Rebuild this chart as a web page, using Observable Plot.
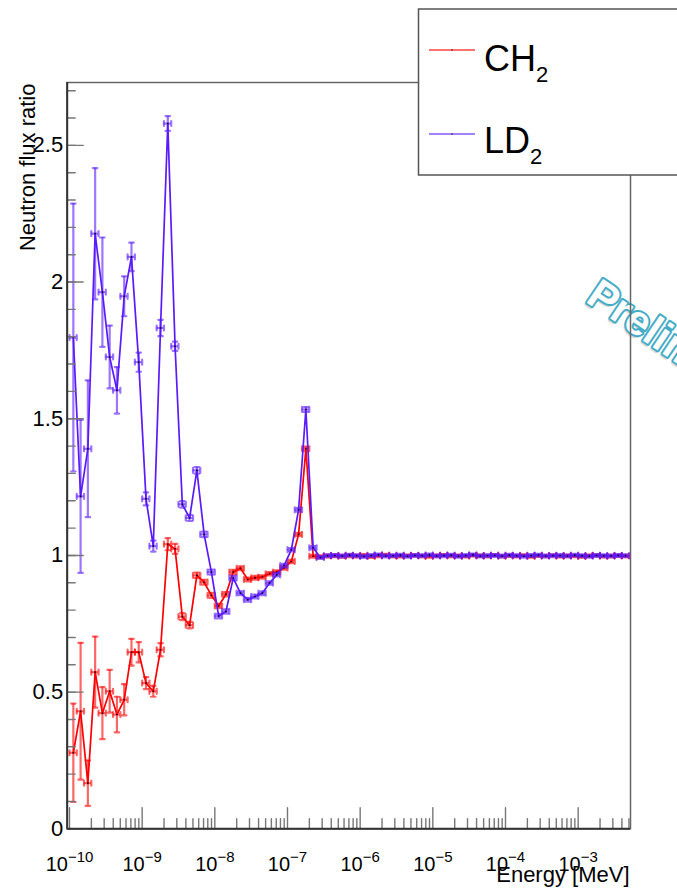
<!DOCTYPE html>
<html><head><meta charset="utf-8">
<script src="https://cdn.jsdelivr.net/npm/d3@7"></script>
<script src="https://cdn.jsdelivr.net/npm/@observablehq/plot@0.6"></script>
<style>html,body{margin:0;padding:0;background:#fff;} svg{display:block}</style>
</head><body><div id="chart"></div>
<script>
// ---- binning: 10 log bins per decade starting at 1e-10 MeV ----
const nBins = 77;
const binLowExp = d3.range(nBins).map(i => -10 + i / 10);

// ---- series values (ratio) ----
const ch2Values = [0.278,0.430,0.167,0.573,0.423,0.503,0.418,0.472,0.646,0.646,
  0.533,0.503,0.655,1.041,1.024,0.776,0.745,0.927,0.902,0.854,
  0.815,0.858,0.939,0.953,0.912,0.918,0.921,0.933,0.939,0.954,
  0.978,1.077,1.390,0.997,0.995,0.998,0.999,0.997,0.999,0.998,
  1.000,0.996,0.999,1.001,0.998,0.997,0.999,1.000,0.998,0.996,
  0.999,1.001,0.998,0.999,0.997,1.000,0.999,0.998,1.001,0.997,
  0.999,0.998,1.000,0.996,0.999,0.998,1.000,0.997,0.999,0.998,
  0.996,0.999,1.000,0.997,0.998,0.999,0.998];
const ch2Errors = [0.18,0.25,0.083,0.13,0.095,0.078,0.065,0.057,0.049,0.037,
  0.022,0.02,0.024,0.022,0.018,0.013,0.012,0.010,0.009,0.009,
  0.008,0.008,0.008,0.007,0.007,0.007,0.006,0.006,0.006,0.006,
  0.006,0.006,0.008,0.005,0.005,0.005,0.005,0.005,0.005,0.005,
  0.005,0.005,0.005,0.005,0.004,0.004,0.004,0.004,0.004,0.004,
  0.004,0.004,0.004,0.004,0.004,0.004,0.004,0.004,0.004,0.004,
  0.004,0.004,0.004,0.004,0.004,0.004,0.004,0.004,0.004,0.004,
  0.004,0.004,0.004,0.004,0.004,0.004,0.004];
const ld2Values = [1.797,1.216,1.390,2.177,1.963,1.726,1.604,1.948,2.092,1.707,
  1.207,1.034,1.832,2.580,1.765,1.187,1.137,1.311,1.077,0.939,
  0.778,0.795,0.917,0.862,0.838,0.850,0.862,0.899,0.929,0.963,
  1.021,1.167,1.534,1.028,0.992,0.999,1.000,0.998,1.001,0.999,
  0.996,1.000,1.002,0.998,0.999,1.001,0.997,1.000,0.999,1.002,
  0.998,0.999,1.001,0.997,1.000,1.002,0.998,0.999,1.000,0.998,
  1.001,0.999,0.997,1.000,1.001,0.998,0.999,1.000,0.998,1.001,
  0.999,0.997,1.000,0.999,0.998,1.000,0.999];
const ld2Errors = [0.49,0.28,0.25,0.24,0.20,0.115,0.085,0.073,0.052,0.035,
  0.024,0.02,0.03,0.027,0.017,0.012,0.011,0.012,0.010,0.009,
  0.008,0.008,0.008,0.007,0.007,0.007,0.007,0.006,0.006,0.006,
  0.006,0.007,0.009,0.006,0.005,0.005,0.005,0.005,0.005,0.005,
  0.005,0.005,0.005,0.005,0.005,0.005,0.005,0.005,0.005,0.005,
  0.005,0.005,0.005,0.005,0.005,0.005,0.005,0.005,0.005,0.005,
  0.005,0.005,0.005,0.005,0.005,0.005,0.005,0.005,0.005,0.005,
  0.005,0.005,0.005,0.005,0.005,0.005,0.005];

// ---- ticks ----
const xMajorTicks = [1e-10,1e-9,1e-8,1e-7,1e-6,1e-5,1e-4,1e-3];
const xMinorTicks = [];
for (const m of xMajorTicks) for (const k of [2,3,4,5,6,7,8,9]) { const v = k*m; if (v <= 5.25e-3) xMinorTicks.push(v); }
const yMajorTicks = [0,0.5,1,1.5,2,2.5];
const yMinorTicks = d3.range(0, 28).map(i => i/10);

const seriesNames = ["CH", "LD"];
const seriesSub = ["2", "2"];
const colors = ["#ff0000", "#5a1aff"];
const watermark = [{x: 1.22e-3, y: 1.93, t: "Preliminary"}];

const FONT = "'Liberation Sans', Arial, Helvetica, sans-serif";

function rows(vals, errs) {
  return vals.map((v, i) => {
    const lo = Math.pow(10, binLowExp[i]), hi = Math.pow(10, binLowExp[i] + 0.1);
    return {x: (lo + hi) / 2, lo, hi, y: v, e: errs[i]};
  });
}
const ch2 = rows(ch2Values, ch2Errors);
const ld2 = rows(ld2Values, ld2Errors);

const up = {draw(c, l) { c.moveTo(0, 0); c.lineTo(0, -l); }};
const right = {draw(c, l) { c.moveTo(0, 0); c.lineTo(l, 0); }};
const hcap = {draw(c, l) { c.moveTo(-l/2, 0); c.lineTo(l/2, 0); }};
const vcap = {draw(c, l) { c.moveTo(0, -l/2); c.lineTo(0, l/2); }};

function seriesMarks(data, color) {
  const eb = {stroke: color, strokeOpacity: 0.6, strokeWidth: 2.2};
  return [
    Plot.ruleX(data, {x: "x", y1: d => d.y - d.e, y2: d => d.y + d.e, ...eb}),
    Plot.ruleY(data, {y: "y", x1: "lo", x2: "hi", ...eb}),
    Plot.vector(data, {x: "x", y: d => d.y + d.e, length: 4.5, anchor: "start", shape: hcap, ...eb}),
    Plot.vector(data, {x: "x", y: d => d.y - d.e, length: 4.5, anchor: "start", shape: hcap, ...eb}),
    Plot.vector(data, {x: "lo", y: "y", length: 5, anchor: "start", shape: vcap, ...eb}),
    Plot.vector(data, {x: "hi", y: "y", length: 5, anchor: "start", shape: vcap, ...eb}),
    Plot.line(data, {x: "x", y: "y", stroke: color, strokeWidth: 1.7}),
    Plot.dot(data, {x: "x", y: "y", r: 0.8, fill: "black"})
  ];
}

const tickStroke = {stroke: "#777", strokeWidth: 1.4};

const chart = Plot.plot({
  width: 677, height: 893,
  marginLeft: 66.7, marginRight: 47, marginTop: 82, marginBottom: 64.7,
  x: {type: "log", domain: [9.3e-11, 5.25e-3], axis: null},
  y: {domain: [0, 2.73], axis: null},
  style: {fontFamily: FONT, background: "white", color: "black"},
  marks: [
    Plot.text(watermark, {x: "x", y: "y", text: "t", rotate: 34, textAnchor: "start", lineAnchor: "bottom",
      fontSize: 42, fontWeight: "bold", fill: "none", stroke: "#999", strokeWidth: 2, strokeOpacity: 0.35, dx: -1.5, dy: 2}),
    Plot.text(watermark, {x: "x", y: "y", text: "t", rotate: 34, textAnchor: "start", lineAnchor: "bottom",
      fontSize: 42, fontWeight: "bold", fill: "white", stroke: "#45abc6", strokeWidth: 4}),
    Plot.frame({stroke: "#666", strokeWidth: 1.5}),
    ...seriesMarks(ch2, colors[0]),
    ...seriesMarks(ld2, colors[1]),
    Plot.vector(xMajorTicks, {x: d => d, frameAnchor: "bottom", length: 21, anchor: "start", shape: up, ...tickStroke}),
    Plot.vector(xMinorTicks, {x: d => d, frameAnchor: "bottom", length: 10, anchor: "start", shape: up, ...tickStroke}),
    Plot.vector(yMajorTicks, {y: d => d, frameAnchor: "left", length: 16, anchor: "start", shape: right, ...tickStroke}),
    Plot.vector(yMinorTicks, {y: d => d, frameAnchor: "left", length: 8, anchor: "start", shape: right, ...tickStroke}),
    Plot.ruleY([0], {stroke: "#333", strokeWidth: 2}),
    Plot.ruleX([9.3e-11], {stroke: "#333", strokeWidth: 2}),
    Plot.text(xMajorTicks, {x: d => d, frameAnchor: "bottom", dy: 42.4, lineAnchor: "bottom", textAnchor: "middle",
      text: d => String(Math.round(Math.log10(d))), fontSize: 20, fill: "black"}),
    Plot.text(yMajorTicks, {y: d => d, frameAnchor: "left", dx: -4, textAnchor: "end", lineAnchor: "middle",
      text: d => String(d), fontSize: 22, fill: "black"}),
    Plot.text(["Neutron flux ratio"], {frameAnchor: "top-left", dx: -31.7, dy: 1, rotate: -90, textAnchor: "end",
      lineAnchor: "bottom", text: d => d, fontSize: 22, fill: "black"}),
    Plot.text(["Energy [MeV]"], {frameAnchor: "bottom-right", dx: -1, dy: 52.7, textAnchor: "end",
      lineAnchor: "bottom", text: d => d, fontSize: 22, fill: "black"})
  ]
});

// superscript exponents for x tick labels
d3.select(chart).selectAll("text").each(function() {
  const s = this.textContent;
  if (/^-\d+$/.test(s)) {
    this.textContent = "10";
    d3.select(this).append("tspan").attr("font-size", 15).attr("dy", -9.5).text("\u2212" + s.slice(1));
  }
});

// legend (top right, partially outside the picture)
const svg = d3.select(chart);
const lg = svg.append("g").attr("font-family", FONT).attr("text-anchor", "start");
lg.append("rect").attr("x", 418.5).attr("y", 9).attr("width", 300).attr("height", 166)
  .attr("fill", "#fff").attr("stroke", "#555").attr("stroke-width", 1.5);
const legendRows = [50, 134], legendBase = [70.5, 153];
seriesNames.forEach((name, k) => {
  lg.append("line").attr("x1", 429).attr("x2", 475).attr("y1", legendRows[k]).attr("y2", legendRows[k])
    .attr("stroke", colors[k]).attr("stroke-opacity", 0.55).attr("stroke-width", 2);
  lg.append("circle").attr("cx", 452).attr("cy", legendRows[k]).attr("r", 0.7).attr("fill", "black");
  const t = lg.append("text").attr("x", 484).attr("y", legendBase[k]).attr("font-size", 36)
    .attr("text-anchor", "start").attr("fill", "black").text(name);
  t.append("tspan").attr("font-size", 22).attr("dy", 11).text(seriesSub[k]);
});

document.getElementById("chart").appendChild(chart);
</script>
</body></html>
